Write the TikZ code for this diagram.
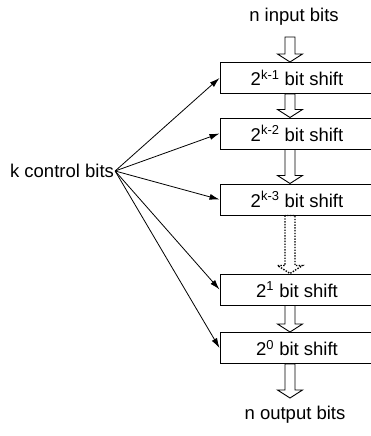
\documentclass[tikz,border=0pt]{standalone}
\usepackage{fontspec}
\setmainfont{Liberation Sans}
\usepackage{tikz}
\usetikzlibrary{arrows.meta,calc}

% hollow block arrow: x from the first point, tip at the y of the second
\newcommand{\hollowarrow}[3][]{%
  \draw[line width=0.9pt,#1] let \p1=(#2), \p2=(#3) in
    (\x1-5pt,\y1) -- (\x1-5pt,\y2+8pt) -- (\x1-12.5pt,\y2+8pt) -- (\x1,\y2)
    -- (\x1+12.5pt,\y2+8pt) -- (\x1+5pt,\y2+8pt) -- (\x1+5pt,\y1) -- cycle;}

\begin{document}
\begin{tikzpicture}[x=1pt,y=-1pt,
  every node/.style={font=\fontsize{18.5}{21}\selectfont},
  shiftbox/.style={draw, line width=1pt, minimum width=154pt, minimum height=31pt, inner sep=0pt},
  ctrl/.style={-{Latex[length=10pt,width=6pt]}, line width=0.8pt}]
\useasboundingbox (0,0) rectangle (370,436);

\node (input) at (294,17) {n input bits};
\node (output) at (295,415) {n output bits};
\node[inner sep=1pt] (control) at (62,171) {k control bits};

\node[shiftbox] (shift1) at (297,78) {2\textsuperscript{k-1} bit shift};
\node[shiftbox] (shift2) at (297,133.5) {2\textsuperscript{k-2} bit shift};
\node[shiftbox] (shift3) at (297,199.5) {2\textsuperscript{k-3} bit shift};
\node[shiftbox] (shift4) at (297,289.5) {2\textsuperscript{1} bit shift};
\node[shiftbox] (shift5) at (297,348) {2\textsuperscript{0} bit shift};

\coordinate (top) at (290,37);
\coordinate (bottom) at (290,398);

% data path
\hollowarrow{top}{shift1.north}
\hollowarrow{shift1.south -| top}{shift2.north}
\hollowarrow{shift2.south -| top}{shift3.north}
\hollowarrow[line width=1.4pt, dash pattern=on 1.4pt off 1.4pt]{shift3.south -| top}{shift4.north}
\hollowarrow{shift4.south -| top}{shift5.north}
\hollowarrow{shift5.south -| top}{bottom}

% control lines
\draw[ctrl] (control.east) -- (shift1.west);
\draw[ctrl] (control.east) -- (shift2.west);
\draw[ctrl] (control.east) -- (shift3.west);
\draw[ctrl] (control.east) -- (shift4.west);
\draw[ctrl] (control.east) -- (shift5.west);
\end{tikzpicture}
\end{document}
